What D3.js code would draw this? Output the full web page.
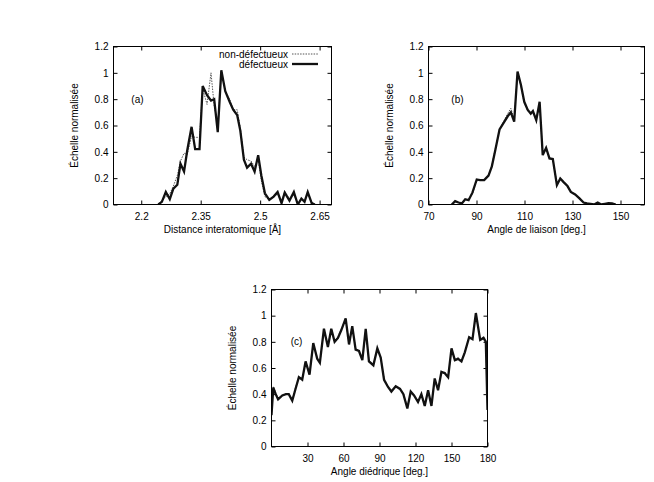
<!DOCTYPE html>
<html><head><meta charset="utf-8">
<script src="https://cdn.jsdelivr.net/npm/d3@7"></script>
<style>body{margin:0;background:#fff}</style>
</head><body>
<svg id="c" width="654" height="482"></svg>
<script>
// ---------- DATA ----------
const yTicks = [0, 0.2, 0.4, 0.6, 0.8, 1, 1.2];
const legendLabels = ["non-défectueux", "défectueux"];

// Panel (a): Distance interatomique
const aTicks = [2.2, 2.35, 2.5, 2.65];
const aX = [2.243, 2.252, 2.262, 2.272, 2.281, 2.291, 2.299, 2.308, 2.316, 2.327, 2.336, 2.347, 2.355, 2.366, 2.376, 2.384, 2.393, 2.402, 2.412, 2.423, 2.432, 2.442, 2.450, 2.459, 2.467, 2.477, 2.486, 2.495, 2.503, 2.512, 2.523, 2.534, 2.544, 2.554, 2.562, 2.574, 2.585, 2.595, 2.604, 2.612, 2.620, 2.630, 2.638];
const aNon = [0, 0.03, 0.06, 0.08, 0.14, 0.22, 0.33, 0.39, 0.38, 0.52, 0.51, 0.51, 0.88, 0.76, 1.0, 0.75, 0.60, 1.0, 0.86, 0.80, 0.72, 0.72, 0.58, 0.36, 0.34, 0.33, 0.29, 0.34, 0.18, 0.06, 0.04, 0.06, 0.08, 0.02, 0.10, 0.04, 0.07, 0.01, 0.04, 0.02, 0.08, 0.02, 0];
const aDef = [0, 0.02, 0.095, 0.04, 0.12, 0.15, 0.31, 0.25, 0.41, 0.59, 0.42, 0.42, 0.90, 0.83, 0.79, 0.80, 0.55, 1.02, 0.86, 0.78, 0.72, 0.68, 0.56, 0.34, 0.28, 0.31, 0.25, 0.375, 0.22, 0.085, 0.035, 0.06, 0.095, 0.01, 0.09, 0.03, 0.095, 0, 0.045, 0.02, 0.095, 0.01, 0];

// Panel (b): Angle de liaison
const bTicks = [70, 90, 110, 130, 150];
const bX = [79.7, 81.1, 82.5, 83.9, 85.3, 86.7, 88.3, 90.1, 91.5, 93.2, 95.0, 96.4, 97.8, 99.6, 101.3, 103.0, 104.3, 105.7, 107.1, 108.5, 109.9, 111.3, 112.6, 113.5, 114.9, 116.3, 117.6, 119.0, 120.4, 121.8, 123.5, 124.9, 126.3, 127.9, 129.3, 131.1, 132.9, 134.6, 136.0, 137.5, 139.0, 140.5, 142.0, 143.5, 145.0, 146.5, 148.0];
const bNon = [0, 0.02, 0.015, 0.01, 0.035, 0.035, 0.08, 0.18, 0.185, 0.19, 0.22, 0.30, 0.42, 0.57, 0.63, 0.69, 0.73, 0.65, 1.0, 0.90, 0.77, 0.71, 0.70, 0.70, 0.65, 0.76, 0.38, 0.42, 0.36, 0.34, 0.16, 0.19, 0.17, 0.14, 0.10, 0.075, 0.045, 0.015, 0.01, 0.005, 0, 0.015, 0, 0.005, 0.01, 0.008, 0];
const bDef = [0, 0.025, 0.015, 0.008, 0.04, 0.033, 0.09, 0.19, 0.185, 0.185, 0.22, 0.29, 0.41, 0.57, 0.62, 0.67, 0.70, 0.63, 1.01, 0.91, 0.78, 0.72, 0.69, 0.71, 0.64, 0.78, 0.375, 0.43, 0.35, 0.345, 0.147, 0.198, 0.17, 0.14, 0.096, 0.076, 0.046, 0.015, 0.008, 0.005, 0, 0.015, 0, 0.005, 0.01, 0.008, 0];

// Panel (c): Angle diédrique
const cTicks = [30, 60, 90, 120, 150, 180];
const cX = [0, 1.5, 3.5, 5.5, 9.0, 12.0, 14.4, 17.3, 20.0, 22.8, 25.6, 28.4, 31.7, 34.8, 38.1, 40.3, 43.7, 47.0, 49.8, 52.6, 55.4, 58.2, 61.8, 64.6, 67.3, 70.1, 72.9, 75.7, 78.5, 81.2, 84.9, 88.2, 91.0, 93.8, 97.1, 99.9, 103.5, 107.1, 109.9, 113.2, 116.0, 118.8, 122.1, 124.9, 127.7, 130.5, 133.3, 136.0, 138.8, 141.6, 144.4, 147.2, 150.0, 152.8, 155.5, 158.3, 161.1, 164.7, 167.5, 170.3, 173.9, 176.7, 178.6, 180];
const cNon = [0.26, 0.46, 0.41, 0.37, 0.39, 0.40, 0.40, 0.36, 0.45, 0.53, 0.52, 0.64, 0.56, 0.78, 0.68, 0.64, 0.89, 0.77, 0.90, 0.80, 0.84, 0.90, 0.97, 0.79, 0.91, 0.75, 0.73, 0.67, 0.89, 0.66, 0.63, 0.74, 0.68, 0.52, 0.46, 0.42, 0.46, 0.44, 0.41, 0.30, 0.41, 0.39, 0.35, 0.40, 0.32, 0.43, 0.32, 0.51, 0.44, 0.57, 0.57, 0.53, 0.74, 0.66, 0.68, 0.65, 0.72, 0.84, 0.82, 1.01, 0.82, 0.84, 0.81, 0.30];
const cDef = [0.24, 0.45, 0.40, 0.36, 0.39, 0.40, 0.40, 0.35, 0.44, 0.53, 0.51, 0.65, 0.55, 0.79, 0.67, 0.64, 0.90, 0.76, 0.90, 0.80, 0.83, 0.89, 0.98, 0.78, 0.92, 0.74, 0.73, 0.66, 0.90, 0.65, 0.62, 0.75, 0.68, 0.51, 0.455, 0.42, 0.46, 0.44, 0.40, 0.29, 0.42, 0.39, 0.34, 0.40, 0.31, 0.43, 0.31, 0.52, 0.43, 0.57, 0.56, 0.53, 0.75, 0.66, 0.67, 0.65, 0.72, 0.835, 0.82, 1.02, 0.815, 0.83, 0.80, 0.28];

// ---------- DRAW ----------
const svg = d3.select('#c');
const FONT = "'Liberation Sans', Arial, Helvetica, sans-serif";

function panel(cfg) {
  const x = d3.scaleLinear().domain(cfg.xDomain).range([cfg.left, cfg.right]);
  const y = d3.scaleLinear().domain([0, 1.2]).range([cfg.bottom, cfg.top]);
  const g = svg.append('g').attr('font-family', FONT);

  const styleAxis = sel => {
    sel.select('.domain').remove();
    sel.selectAll('line').attr('stroke', '#000').attr('stroke-width', 1);
    sel.selectAll('text').attr('font-size', 10).attr('fill', '#000').attr('font-family', FONT);
  };
  g.append('g').attr('transform', `translate(0,${cfg.bottom})`)
    .call(d3.axisBottom(x).tickValues(cfg.xTicks).tickSizeInner(-4).tickSizeOuter(0).tickPadding(8).tickFormat(d => String(d)))
    .call(styleAxis);
  g.append('g').attr('transform', `translate(0,${cfg.top})`)
    .call(d3.axisTop(x).tickValues(cfg.xTicks).tickSizeInner(-4).tickSizeOuter(0).tickFormat(''))
    .call(styleAxis);
  g.append('g').attr('transform', `translate(${cfg.left},0)`)
    .call(d3.axisLeft(y).tickValues(yTicks).tickSizeInner(-4).tickSizeOuter(0).tickPadding(5).tickFormat(d => String(d)))
    .call(styleAxis);
  g.append('g').attr('transform', `translate(${cfg.right},0)`)
    .call(d3.axisRight(y).tickValues(yTicks).tickSizeInner(-4).tickSizeOuter(0).tickFormat(''))
    .call(styleAxis);

  const clipId = 'clip' + cfg.name;
  svg.append('clipPath').attr('id', clipId).append('rect')
    .attr('x', cfg.left).attr('y', cfg.top - 2).attr('width', cfg.right - cfg.left).attr('height', cfg.bottom - cfg.top + 2);

  const line = d3.line().x(d => x(d[0])).y(d => y(d[1]));
  const lg = g.append('g').attr('clip-path', `url(#${clipId})`);
  lg.append('path').datum(cfg.xs.map((v, i) => [v, cfg.non[i]]))
    .attr('d', line).attr('fill', 'none').attr('stroke', '#555').attr('stroke-width', 1)
    .attr('stroke-dasharray', '1.5,1.2');
  lg.append('path').datum(cfg.xs.map((v, i) => [v, cfg.def[i]]))
    .attr('d', line).attr('fill', 'none').attr('stroke', '#111').attr('stroke-width', 2.3)
    .attr('stroke-linejoin', 'miter');

  g.append('rect').attr('x', cfg.left).attr('y', cfg.top)
    .attr('width', cfg.right - cfg.left).attr('height', cfg.bottom - cfg.top)
    .attr('fill', 'none').attr('stroke', '#000').attr('stroke-width', 1);

  g.append('text').attr('x', x(cfg.tag[0])).attr('y', y(cfg.tag[1]))
    .attr('dy', '0.35em').attr('font-size', 10).text(cfg.tagText);

  g.append('text').attr('x', (cfg.left + cfg.right) / 2).attr('y', cfg.bottom + 28)
    .attr('text-anchor', 'middle').attr('font-size', 10).text(cfg.xLabel);
  const ly = (cfg.top + cfg.bottom) / 2;
  g.append('text').attr('transform', `translate(${cfg.left - 36},${ly}) rotate(-90)`)
    .attr('text-anchor', 'middle').attr('font-size', 10).text('Échelle normalisée');
  return { x, y, g };
}

const pa = panel({ name: 'a', left: 113.5, right: 331.5, top: 46.5, bottom: 204.5, xDomain: [2.13, 2.68], xTicks: aTicks,
  xs: aX, non: aNon, def: aDef, tag: [2.175, 0.8], tagText: '(a)', xLabel: 'Distance interatomique [Å]' });
panel({ name: 'b', left: 428.5, right: 644.5, top: 46.5, bottom: 204.5, xDomain: [70, 160], xTicks: bTicks,
  xs: bX, non: bNon, def: bDef, tag: [79.5, 0.8], tagText: '(b)', xLabel: 'Angle de liaison [deg.]' });
panel({ name: 'c', left: 271.5, right: 487.5, top: 289.5, bottom: 446.5, xDomain: [0, 180], xTicks: cTicks,
  xs: cX, non: cNon, def: cDef, tag: [16, 0.8], tagText: '(c)', xLabel: 'Angle diédrique [deg.]' });

// legend (panel a)
const leg = pa.g.append('g');
const legStyles = [
  { stroke: '#555', w: 1, dash: '1.5,1.2' },
  { stroke: '#111', w: 2.3, dash: null }
];
legendLabels.forEach((lab, i) => {
  const yy = 54 + i * 10;
  leg.append('text').attr('x', 288).attr('y', yy).attr('dy', '0.35em')
    .attr('text-anchor', 'end').attr('font-size', 10).text(lab);
  leg.append('line').attr('x1', 292).attr('x2', 318).attr('y1', yy).attr('y2', yy)
    .attr('stroke', legStyles[i].stroke).attr('stroke-width', legStyles[i].w)
    .attr('stroke-dasharray', legStyles[i].dash);
});
</script>
</body></html>
